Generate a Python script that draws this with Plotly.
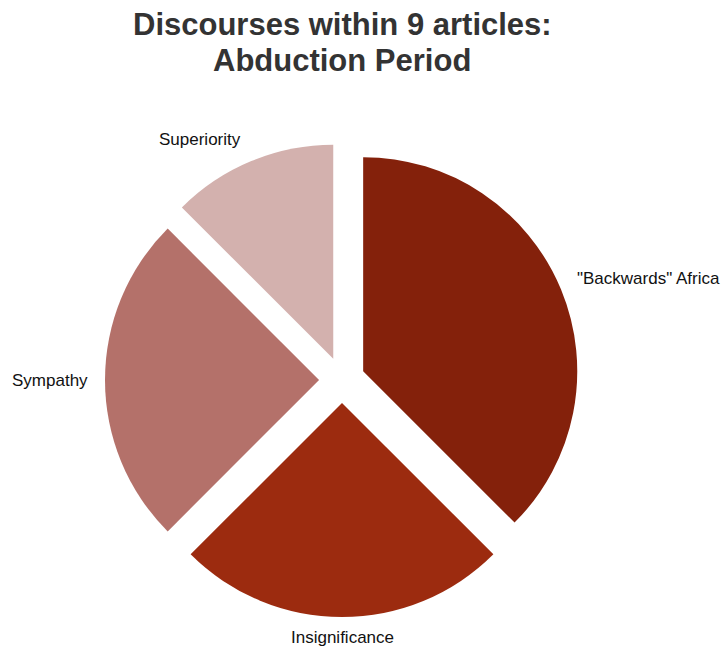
import plotly.graph_objects as go

labels = ['"Backwards" Africa', "Insignificance", "Sympathy", "Superiority"]
values = [3, 2, 2, 1]
colors = ["#84210B", "#9C2B0F", "#B4716A", "#D3B1AE"]
title_lines = ["Discourses within 9 articles:", "Abduction Period"]

W, HT = 724, 648
T, B, L, R = 143, 31, 0, 40
H = HT - T - B
PW = W - L - R

def px(x):
    return (x - L) / PW

def py(y):
    return (HT - B - y) / H

# label anchor positions in pixels
label_pos = [
    (575, 278, "left"),
    (342, 637, "center"),
    (90, 380, "right"),
    (200, 139, "center"),
]

fig = go.Figure(go.Pie(
    labels=labels,
    values=values,
    sort=False,
    direction="clockwise",
    rotation=0,
    pull=[0.107] * 4,
    marker=dict(colors=colors, line=dict(width=0)),
    textinfo="none",
    hoverinfo="label+value",
    showlegend=False,
))

annotations = []
for lab, (x, y, anc) in zip(labels, label_pos):
    annotations.append(dict(
        text=lab, x=px(x), y=py(y), xref="paper", yref="paper",
        xanchor=anc, yanchor="middle", showarrow=False,
        font=dict(family="Liberation Sans, Arial, sans-serif", size=17, color="#111111"),
    ))

for line, yb in zip(title_lines, [24, 61]):
    annotations.append(dict(
        text="<b>" + line + "</b>", x=px(342), y=py(yb), xref="paper", yref="paper",
        xanchor="center", yanchor="middle", showarrow=False,
        font=dict(family="Liberation Sans, Arial, sans-serif", size=31, color="#333333"),
    ))

fig.update_layout(
    width=W, height=HT,
    paper_bgcolor="white", plot_bgcolor="white",
    margin=dict(l=L, r=R, t=T, b=B),
    font=dict(family="Liberation Sans, Arial, sans-serif"),
    annotations=annotations,
)

fig.write_html(
    "out.html",
    config={"displayModeBar": False},
    post_script="document.body.style.margin='0';document.body.style.overflow='hidden';",
)
